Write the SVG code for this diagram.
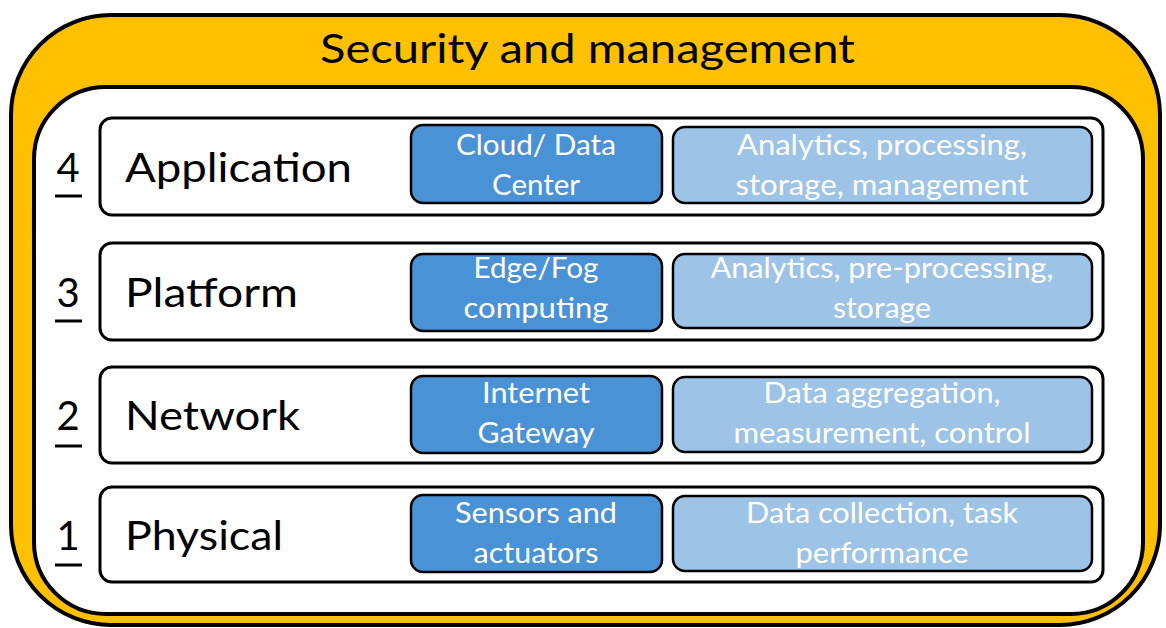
<svg xmlns="http://www.w3.org/2000/svg" width="1166" height="628" viewBox="0 0 1166 628">
<style>
.t{font-family:Lato,"Open Sans","Liberation Sans",sans-serif}
.title{font-size:40px;fill:#000}
.lab{font-size:41px;fill:#000}
.num{font-size:40px;fill:#000;text-anchor:middle}
.w{font-size:28px;fill:#fff;text-anchor:middle}
.layer{fill:#fff;stroke:#000;stroke-width:3}
.dark{fill:#4A92D6;stroke:#000;stroke-width:2.5}
.light{fill:#9DC3E6;stroke:#000;stroke-width:2.5}
.ul{stroke:#000;stroke-width:3}
</style>
<rect width="1166" height="628" fill="#fff"/>
<g id="security">
<rect x="11" y="15" width="1149" height="610" rx="100" fill="#FFC000" stroke="#000" stroke-width="4"/>
<rect x="34" y="87" width="1109" height="527" rx="72" fill="#fff" stroke="#000" stroke-width="4"/>
<text class="t title" x="320" y="63" textLength="535" lengthAdjust="spacingAndGlyphs">Security and management</text>
</g>
<g id="layer4">
<rect class="layer" x="100" y="118" width="1003" height="97" rx="12"/>
<text class="t num" x="68" y="182">4</text><line class="ul" x1="55" y1="196" x2="82" y2="196"/>
<text class="t lab" x="125" y="182" textLength="227" lengthAdjust="spacingAndGlyphs">Application</text>
<rect class="dark" x="411" y="125" width="251" height="78" rx="12"/>
<text class="t w" x="536" y="155" textLength="160" lengthAdjust="spacingAndGlyphs">Cloud/ Data</text>
<text class="t w" x="536" y="195" textLength="88" lengthAdjust="spacingAndGlyphs">Center</text>
<rect class="light" x="673" y="127" width="419" height="76" rx="12"/>
<text class="t w" x="882" y="155" textLength="290" lengthAdjust="spacingAndGlyphs">Analytics, processing,</text>
<text class="t w" x="882" y="195" textLength="293" lengthAdjust="spacingAndGlyphs">storage, management</text>
</g>
<g id="layer3">
<rect class="layer" x="100" y="243" width="1003" height="97" rx="12"/>
<text class="t num" x="68" y="307">3</text><line class="ul" x1="55" y1="321" x2="82" y2="321"/>
<text class="t lab" x="125" y="307" textLength="173" lengthAdjust="spacingAndGlyphs">Platform</text>
<rect class="dark" x="411" y="254" width="251" height="77" rx="12"/>
<text class="t w" x="536" y="278" textLength="125" lengthAdjust="spacingAndGlyphs">Edge/Fog</text>
<text class="t w" x="536" y="318" textLength="145" lengthAdjust="spacingAndGlyphs">computing</text>
<rect class="light" x="673" y="254" width="419" height="74" rx="12"/>
<text class="t w" x="882" y="278" textLength="343" lengthAdjust="spacingAndGlyphs">Analytics, pre-processing,</text>
<text class="t w" x="882" y="318" textLength="98" lengthAdjust="spacingAndGlyphs">storage</text>
</g>
<g id="layer2">
<rect class="layer" x="100" y="367" width="1003" height="96" rx="12"/>
<text class="t num" x="68" y="430">2</text><line class="ul" x1="55" y1="446" x2="82" y2="446"/>
<text class="t lab" x="125" y="430" textLength="175" lengthAdjust="spacingAndGlyphs">Network</text>
<rect class="dark" x="411" y="376" width="251" height="77" rx="12"/>
<text class="t w" x="536" y="403" textLength="108" lengthAdjust="spacingAndGlyphs">Internet</text>
<text class="t w" x="536" y="443" textLength="117" lengthAdjust="spacingAndGlyphs">Gateway</text>
<rect class="light" x="673" y="377" width="419" height="75" rx="12"/>
<text class="t w" x="882" y="403" textLength="237" lengthAdjust="spacingAndGlyphs">Data aggregation,</text>
<text class="t w" x="882" y="443" textLength="297" lengthAdjust="spacingAndGlyphs">measurement, control</text>
</g>
<g id="layer1">
<rect class="layer" x="100" y="487" width="1003" height="95" rx="12"/>
<text class="t num" x="68" y="550">1</text><line class="ul" x1="55" y1="565" x2="82" y2="565"/>
<text class="t lab" x="125" y="550" textLength="158" lengthAdjust="spacingAndGlyphs">Physical</text>
<rect class="dark" x="411" y="495" width="251" height="77" rx="12"/>
<text class="t w" x="536" y="523" textLength="162" lengthAdjust="spacingAndGlyphs">Sensors and</text>
<text class="t w" x="536" y="563" textLength="125" lengthAdjust="spacingAndGlyphs">actuators</text>
<rect class="light" x="673" y="496" width="419" height="75" rx="12"/>
<text class="t w" x="882" y="523" textLength="272" lengthAdjust="spacingAndGlyphs">Data collection, task</text>
<text class="t w" x="882" y="563" textLength="173" lengthAdjust="spacingAndGlyphs">performance</text>
</g>
<g id="connectors"/>
</svg>
